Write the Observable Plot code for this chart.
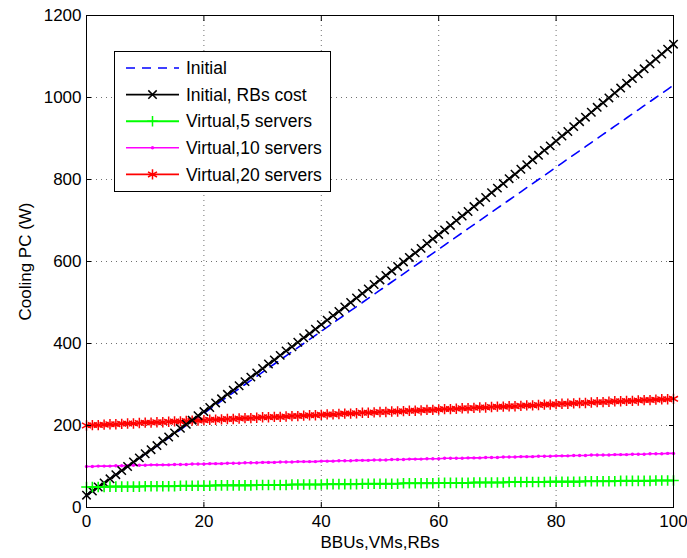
<!DOCTYPE html>
<html>
<head>
<meta charset="utf-8">
<script src="https://cdn.jsdelivr.net/npm/d3@7"></script>
<script src="https://cdn.jsdelivr.net/npm/@observablehq/plot@0.6"></script>
<style>
  body { margin: 0; background: white; }
  #wrap { position: relative; width: 687px; height: 558px; font-family: "Liberation Sans", Arial, sans-serif; }
  #legend { position: absolute; background: white; border: 1px solid black; box-sizing: border-box; }
</style>
</head>
<body>
<div id="wrap"></div>
<script>
// x values: BBUs, VMs, RBs
const xs = d3.range(0, 101);
const xTicks = [0, 20, 40, 60, 80, 100];
const yTicks = [0, 200, 400, 600, 800, 1000, 1200];

const seriesNames = ["Initial", "Initial, RBs cost", "Virtual,5 servers", "Virtual,10 servers", "Virtual,20 servers"];
const seriesColors = ["#0000ff", "#000000", "#00ff00", "#ff00ff", "#ff0000"];
const seriesSymbols = [null, "times", "plus", "dot", "asterisk"];

const initial = [30,40,50,60,70,80,90,100,110,120,130,140,150,160,170,180,190,200,210,220,230,240,250,260,270,280,290,300,310,320,330,340,350,360,370,380,390,400,410,420,430,440,450,460,470,480,490,500,510,520,530,540,550,560,570,580,590,600,610,620,630,640,650,660,670,680,690,700,710,720,730,740,750,760,770,780,790,800,810,820,830,840,850,860,870,880,890,900,910,920,930,940,950,960,970,980,990,1000,1010,1020,1030];

const initialRBs = [30,40,50,60,70,80,90,100,111,121,131,141,151,162,172,182,193,203,213,224,234,244,255,265,276,286,297,307,318,328,339,350,360,371,382,392,403,414,424,435,446,457,468,478,489,500,511,522,533,544,555,566,577,588,599,610,621,632,644,655,666,677,688,700,711,722,734,745,756,768,779,790,802,813,825,836,848,859,871,882,894,906,917,929,941,952,964,976,987,999,1011,1023,1035,1046,1058,1070,1082,1094,1106,1118,1130];

const virtual5 = [50,50,50,50,51,51,51,51,51,51,52,52,52,52,52,52,53,53,53,53,53,53,54,54,54,54,54,54,54,55,55,55,55,55,55,56,56,56,56,56,56,57,57,57,57,57,57,58,58,58,58,58,58,58,59,59,59,59,59,59,60,60,60,60,60,60,61,61,61,61,61,61,62,62,62,62,62,62,62,63,63,63,63,63,63,64,64,64,64,64,64,65,65,65,65,65,65,66,66,66,66];

const virtual10 = [100,100,101,101,101,102,102,102,103,103,103,104,104,104,104,105,105,105,106,106,106,107,107,107,108,108,108,109,109,109,110,110,110,111,111,111,112,112,112,112,113,113,113,114,114,114,115,115,115,116,116,116,117,117,117,118,118,118,119,119,119,120,120,120,120,121,121,121,122,122,122,123,123,123,124,124,124,125,125,125,126,126,126,127,127,127,128,128,128,128,129,129,129,130,130,130,131,131,131,132,132];

const virtual20 = [200,201,201,202,203,203,204,205,205,206,207,207,208,208,209,210,210,211,212,212,213,214,214,215,216,216,217,218,218,219,220,220,221,221,222,223,223,224,225,225,226,227,227,228,229,229,230,231,231,232,233,233,234,234,235,236,236,237,238,238,239,240,240,241,242,242,243,244,244,245,246,246,247,247,248,249,249,250,251,251,252,253,253,254,255,255,256,257,257,258,259,259,260,260,261,262,262,263,264,264,265];

const table = xs.map((x, i) => ({x, initial: initial[i], rbs: initialRBs[i], v5: virtual5[i], v10: virtual10[i], v20: virtual20[i]}));

const font = "'Liberation Sans', Arial, sans-serif";
const lw = 1.6;
const symR = {times: 3.9, plus: 3.5, asterisk: 4.9};
const gridStyle = {stroke: "#333", strokeOpacity: 0.7, strokeDasharray: "1,4"};

const plot = Plot.plot({
  width: 687,
  height: 558,
  marginLeft: 86,
  marginRight: 14,
  marginTop: 15,
  marginBottom: 51,
  style: {fontFamily: font, fontSize: "17px", color: "black", background: "white", overflow: "visible"},
  x: {domain: [0, 100]},
  y: {domain: [0, 1200]},
  marks: [
    Plot.gridX(xTicks, gridStyle),
    Plot.gridY(yTicks, gridStyle),
    // Initial (dashed blue)
    Plot.line(table, {x: "x", y: "initial", stroke: seriesColors[0], strokeWidth: lw, strokeDasharray: "9,7"}),
    // Virtual, 20 servers
    Plot.line(table, {x: "x", y: "v20", stroke: seriesColors[4], strokeWidth: lw}),
    Plot.dot(table, {x: "x", y: "v20", symbol: "asterisk", r: symR.asterisk, stroke: seriesColors[4], strokeWidth: 1.5}),
    // Virtual, 10 servers
    Plot.line(table, {x: "x", y: "v10", stroke: seriesColors[3], strokeWidth: lw}),
    Plot.dot(table, {x: "x", y: "v10", r: 1.7, fill: seriesColors[3], stroke: "none"}),
    // Initial, RBs cost
    Plot.line(table, {x: "x", y: "rbs", stroke: seriesColors[1], strokeWidth: lw}),
    Plot.dot(table, {x: "x", y: "rbs", symbol: "times", r: symR.times, stroke: seriesColors[1], strokeWidth: 1.5}),
    // Virtual, 5 servers
    Plot.line(table, {x: "x", y: "v5", stroke: seriesColors[2], strokeWidth: 2}),
    Plot.dot(table, {x: "x", y: "v5", symbol: "plus", r: symR.plus, stroke: seriesColors[2], strokeWidth: 1.6}),
    Plot.frame({stroke: "black", strokeWidth: 1}),
    Plot.axisX(xTicks, {anchor: "bottom", tickSize: -5, tickPadding: 12, tickFormat: d => String(d), label: "BBUs,VMs,RBs", labelAnchor: "center", labelArrow: "none", labelOffset: 40, fontSize: 17}),
    Plot.axisX(xTicks, {anchor: "top", tickSize: -5, tickFormat: () => "", label: null}),
    Plot.axisY(yTicks, {anchor: "left", tickSize: -5, tickPadding: 10, tickFormat: d => String(d), label: "Cooling PC (W)", labelAnchor: "center", labelArrow: "none", labelOffset: 68, fontSize: 17}),
    Plot.axisY(yTicks, {anchor: "right", tickSize: -5, tickFormat: () => "", label: null})
  ]
});

const wrap = document.getElementById("wrap");
wrap.appendChild(plot);

// Legend (inside the axes, upper-left)
const legend = document.createElement("div");
legend.id = "legend";
const lgW = 217, lgH = 141;
legend.style.left = "114px";
legend.style.top = "51px";
legend.style.width = lgW + "px";
legend.style.height = lgH + "px";
wrap.appendChild(legend);

const svg = d3.select(legend).append("svg")
  .attr("width", lgW - 2).attr("height", lgH - 2)
  .style("position", "absolute").style("left", "0px").style("top", "0px");

const symMap = {times: d3.symbolTimes, plus: d3.symbolPlus, asterisk: d3.symbolAsterisk};
seriesNames.forEach((name, i) => {
  const cy = 16 + i * 26.6;
  const g = svg.append("g");
  const line = g.append("line").attr("x1", 11).attr("x2", 64).attr("y1", cy).attr("y2", cy)
    .attr("stroke", seriesColors[i]).attr("stroke-width", i === 2 ? 2 : lw);
  if (i === 0) line.attr("stroke-dasharray", "9,7");
  const s = seriesSymbols[i];
  if (s === "dot") {
    g.append("circle").attr("cx", 37.5).attr("cy", cy).attr("r", 1.7).attr("fill", seriesColors[i]);
  } else if (s) {
    g.append("path").attr("transform", `translate(37.5,${cy})`)
      .attr("d", d3.symbol(symMap[s], Math.PI * symR[s] * symR[s])())
      .attr("fill", "none").attr("stroke", seriesColors[i]).attr("stroke-width", 1.5);
  }
  g.append("text").attr("x", 71).attr("y", cy).attr("dy", "0.35em")
    .attr("font-family", font).attr("font-size", "17.5px").attr("fill", "black").text(name);
});
</script>
</body>
</html>
